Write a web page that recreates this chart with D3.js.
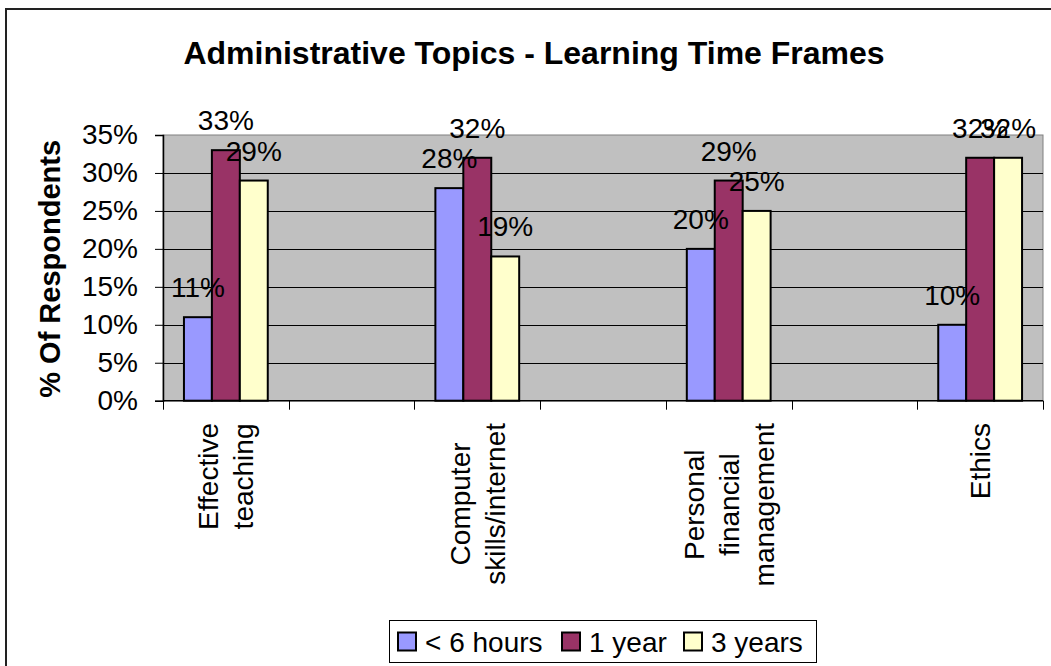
<!DOCTYPE html>
<html>
<head>
<meta charset="utf-8">
<script src="https://cdn.jsdelivr.net/npm/d3@7"></script>
<style>
  html, body { margin: 0; padding: 0; background: #fff; }
  svg { display: block; }
  text { font-family: "Liberation Sans", Arial, Helvetica, sans-serif; fill: #000; }
</style>
</head>
<body>
<svg id="chart" width="1051" height="666"></svg>
<script>
// Topic names (each entry is a list of wrapped lines)
const categories = [
  ["Effective", "teaching"],
  ["Computer", "skills/internet"],
  ["Personal", "financial", "management"],
  ["Ethics"]
];
const seriesNames = ["< 6 hours", "1 year", "3 years"];
const seriesColors = ["#9999FF", "#993366", "#FFFFCC"];
// Percent of respondents per topic
const under6Hours = [11, 28, 20, 10];
const oneYear = [33, 32, 29, 32];
const threeYears = [29, 19, 25, 32];
const yTicks = [0, 5, 10, 15, 20, 25, 30, 35];

const seriesValues = [under6Hours, oneYear, threeYears];
const FONT = 28;

const svg = d3.select("#chart");

// Outer chart frame
svg.append("rect")
  .attr("x", 6).attr("y", 9)
  .attr("width", 1100).attr("height", 700)
  .attr("fill", "#fff")
  .attr("stroke", "#222").attr("stroke-width", 2);

const plot = { left: 163, right: 1043, top: 135, bottom: 400.7 };

// Topics sit in every other slot, leaving an empty slot between them
const x = d3.scaleBand()
  .domain(categories.map((d, i) => i))
  .range([plot.left, plot.right])
  .paddingInner(0.5)
  .paddingOuter(0);

const xInner = d3.scaleBand()
  .domain(seriesNames)
  .range([0, x.bandwidth()])
  .paddingInner(0)
  .paddingOuter(0.75);

const y = d3.scaleLinear()
  .domain([0, 35])
  .range([plot.bottom, plot.top]);

// Plot background
svg.append("rect")
  .attr("x", plot.left).attr("y", plot.top)
  .attr("width", plot.right - plot.left).attr("height", plot.bottom - plot.top)
  .attr("fill", "#C0C0C0")
  .attr("stroke", "#808080").attr("stroke-width", 1);

// Horizontal gridlines
svg.append("g")
  .selectAll("line")
  .data(yTicks.filter(t => t > 0 && t < 35))
  .join("line")
  .attr("x1", plot.left).attr("x2", plot.right)
  .attr("y1", d => Math.round(y(d)) + 0.5).attr("y2", d => Math.round(y(d)) + 0.5)
  .attr("stroke", "#000").attr("stroke-width", 1);

// Y axis
const yAxis = d3.axisLeft(y)
  .tickValues(yTicks)
  .tickFormat(d => d + "%")
  .tickSize(8)
  .tickPadding(17);

const yAxisG = svg.append("g")
  .attr("transform", `translate(${plot.left},0)`)
  .call(yAxis);
yAxisG.select(".domain").attr("stroke", "#000").attr("stroke-width", 1.5);
yAxisG.selectAll(".tick line").attr("stroke", "#000");
yAxisG.selectAll(".tick text")
  .attr("font-size", FONT)
  .attr("font-family", "Liberation Sans, Arial, sans-serif")
  .attr("fill", "#000");

// X axis with ticks at every slot boundary
const slotEdges = d3.range(categories.length * 2).map(k => plot.left + k * x.step() / 2);
svg.append("line")
  .attr("x1", plot.left).attr("x2", plot.right)
  .attr("y1", plot.bottom).attr("y2", plot.bottom)
  .attr("stroke", "#000").attr("stroke-width", 1.5);
svg.append("g")
  .selectAll("line")
  .data(slotEdges)
  .join("line")
  .attr("x1", d => Math.round(d) + 0.5).attr("x2", d => Math.round(d) + 0.5)
  .attr("y1", plot.bottom).attr("y2", plot.bottom + 9)
  .attr("stroke", "#000").attr("stroke-width", 1);

// Bars
const barData = [];
categories.forEach((c, i) => {
  seriesNames.forEach((s, j) => {
    barData.push({ cat: i, series: s, color: seriesColors[j], value: seriesValues[j][i] });
  });
});

svg.append("g")
  .selectAll("rect")
  .data(barData)
  .join("rect")
  .attr("x", d => x(d.cat) + xInner(d.series))
  .attr("y", d => y(d.value))
  .attr("width", xInner.bandwidth())
  .attr("height", d => plot.bottom - y(d.value))
  .attr("fill", d => d.color)
  .attr("stroke", "#000").attr("stroke-width", 2);

// Value labels
svg.append("g")
  .selectAll("text")
  .data(barData)
  .join("text")
  .attr("x", d => x(d.cat) + xInner(d.series) + xInner.bandwidth() / 2)
  .attr("y", d => y(d.value) - 20)
  .attr("text-anchor", "middle")
  .attr("font-size", FONT)
  .text(d => d.value + "%");

// Category labels, rotated, lines centred on the longest one
const lineH = 35;
const capH = FONT * 0.716;
const labelTop = 423;
categories.forEach((lines, i) => {
  const cx = x(i) + x.bandwidth() / 2;
  const g = svg.append("g");
  const texts = g.selectAll("text")
    .data(lines)
    .join("text")
    .attr("font-size", FONT)
    .attr("text-anchor", "middle")
    .text(d => d);
  let maxLen = 0;
  texts.each(function () { maxLen = Math.max(maxLen, this.getComputedTextLength()); });
  const cy = labelTop + maxLen / 2;
  texts.attr("transform", (d, k) => {
    const bx = cx + (k - (lines.length - 1) / 2) * lineH + capH / 2;
    return `translate(${bx},${cy}) rotate(-90)`;
  });
});

// Title
svg.append("text")
  .attr("x", 534).attr("y", 64)
  .attr("text-anchor", "middle")
  .attr("font-size", 32)
  .attr("font-weight", "bold")
  .text("Administrative Topics - Learning Time Frames");

// Y axis title
svg.append("text")
  .attr("transform", `translate(60,${(plot.top + plot.bottom) / 2 + 1}) rotate(-90)`)
  .attr("text-anchor", "middle")
  .attr("font-size", 29)
  .attr("font-weight", "bold")
  .text("% Of Respondents");

// Legend
const legend = svg.append("g");
legend.append("rect")
  .attr("x", 389.5).attr("y", 620.5)
  .attr("width", 427).attr("height", 42)
  .attr("fill", "#fff")
  .attr("stroke", "#000").attr("stroke-width", 1);
const legendX = [398, 562, 684];
seriesNames.forEach((s, j) => {
  legend.append("rect")
    .attr("x", legendX[j]).attr("y", 632.5)
    .attr("width", 18).attr("height", 18)
    .attr("fill", seriesColors[j])
    .attr("stroke", "#000").attr("stroke-width", 2);
  legend.append("text")
    .attr("x", legendX[j] + 27).attr("y", 652)
    .attr("font-size", FONT)
    .text(s);
});
</script>
</body>
</html>
